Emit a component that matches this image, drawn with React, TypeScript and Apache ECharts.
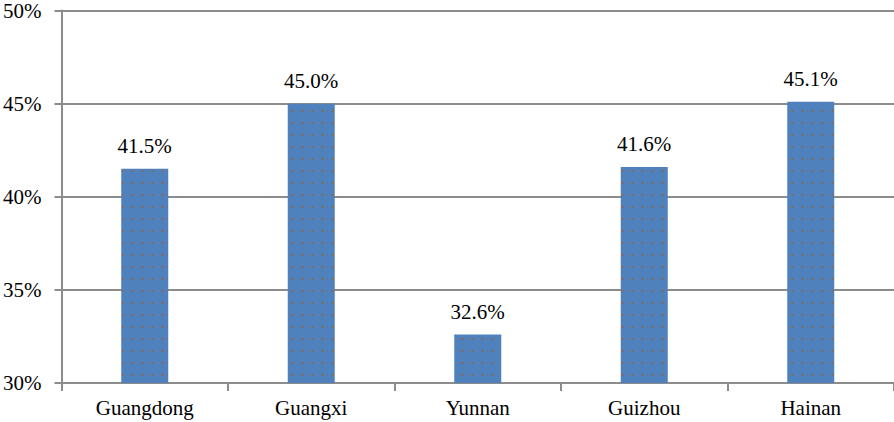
import React, { useEffect, useRef } from "react";
import * as echarts from "echarts";

const categories = ["Guangdong", "Guangxi", "Yunnan", "Guizhou", "Hainan"];
const shares = [41.5, 45.0, 32.6, 41.6, 45.1];
const yMin = 30;
const yMax = 50;
const yStep = 5;

export default function App() {
  const ref = useRef<HTMLDivElement>(null);
  useEffect(() => {
    if (!ref.current) return;
    const chart = echarts.init(ref.current, null, { renderer: "svg" });
    const font = "Liberation Serif";
    chart.setOption({
      animation: false,
      textStyle: { fontFamily: font },
      grid: { left: 60, right: 0, top: 9, bottom: 39, containLabel: false },
      xAxis: {
        type: "category",
        data: categories,
        axisLine: { lineStyle: { color: "#8c8c8c", width: 2 } },
        axisTick: { show: true, length: 8, alignWithLabel: false, lineStyle: { color: "#8c8c8c", width: 2 } },
        axisLabel: { color: "#000", fontFamily: font, fontSize: 21, margin: 14 },
      },
      yAxis: {
        type: "value",
        min: yMin,
        max: yMax,
        interval: yStep,
        axisLine: { show: true, lineStyle: { color: "#8c8c8c", width: 2 } },
        axisTick: { show: true, length: 7, lineStyle: { color: "#8c8c8c", width: 2 } },
        splitLine: { show: true, lineStyle: { color: "#8c8c8c", width: 2 } },
        axisLabel: {
          color: "#000",
          fontFamily: font,
          fontSize: 21,
          margin: 20,
          formatter: (v: number) => `${v}%`,
        },
      },
      series: [
        {
          type: "bar",
          data: shares,
          barWidth: 47,
          itemStyle: {
            color: "#4f81bd",
            decal: {
              symbol: "circle",
              symbolSize: 0.4,
              color: "rgba(165, 95, 45, 0.85)",
              dashArrayX: 5,
              dashArrayY: 6,
              rotation: 0,
            },
          },
          label: {
            show: true,
            position: "top",
            distance: 12,
            color: "#000",
            fontFamily: font,
            fontSize: 21,
            formatter: (p: any) => `${Number(p.value).toFixed(1)}%`,
          },
        },
      ],
    });
    return () => chart.dispose();
  }, []);
  return <div ref={ref} style={{ width: 894, height: 422, position: "absolute", left: 0, top: 0 }} />;
}
